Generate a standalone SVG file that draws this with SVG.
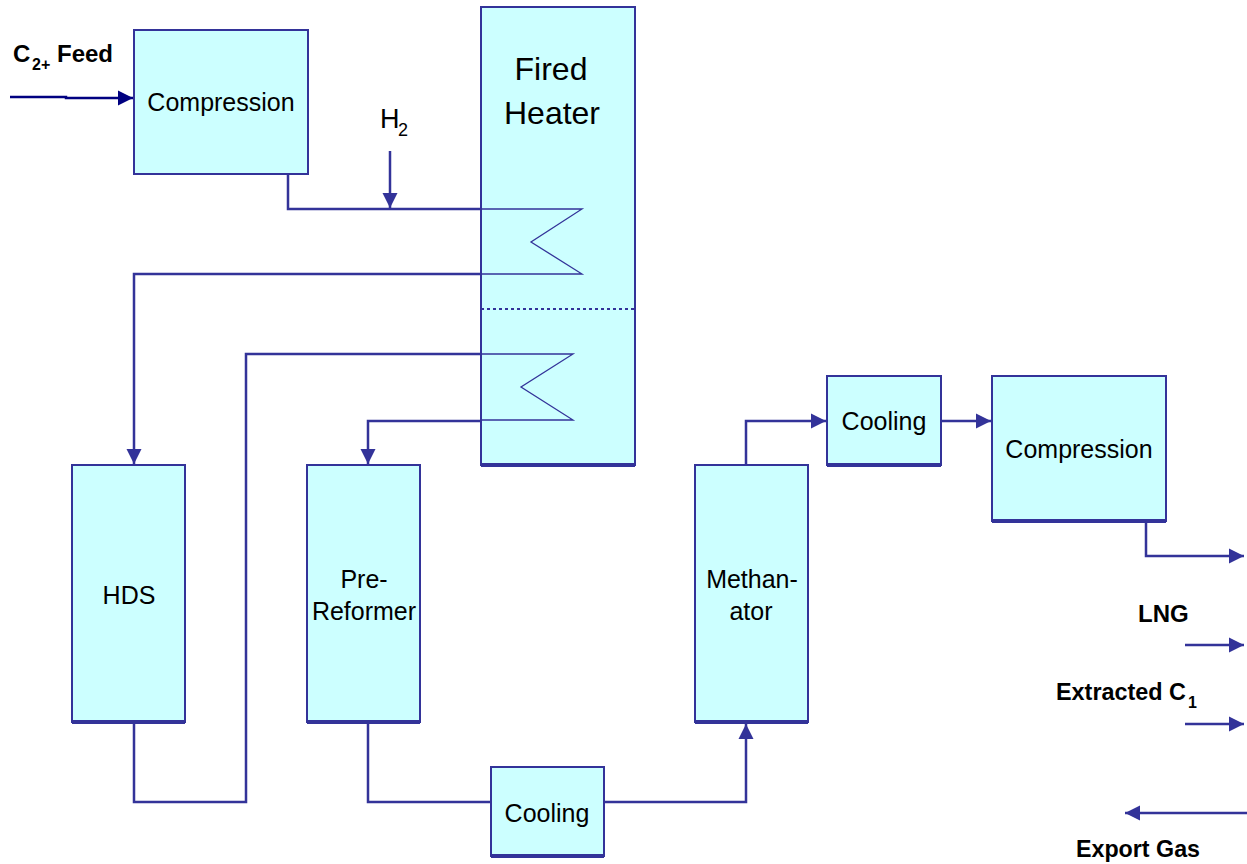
<svg xmlns="http://www.w3.org/2000/svg" width="1247" height="864" viewBox="0 0 1247 864">
<style>
.box{fill:#CCFFFF;stroke:#333399;stroke-width:2}
.base{stroke:#333399;stroke-width:4}
.lbl{font-family:"Liberation Sans",Arial,sans-serif;font-size:25px;fill:#000;text-anchor:middle}
.big{font-size:32px}
.bold{font-family:"Liberation Sans",Arial,sans-serif;font-size:24px;font-weight:bold;fill:#000}
.sub{font-size:16px}
.conn{fill:none;stroke:#333399;stroke-width:2.5}
.coil{fill:none;stroke:#333399;stroke-width:1.3}
</style>
<defs>
<marker id="arr" markerUnits="userSpaceOnUse" markerWidth="16" markerHeight="16" refX="15" refY="8" orient="auto" viewBox="0 0 16 16">
<path d="M0,0.5 L15,8 L0,15.5 z" fill="#333399"/>
</marker>
<marker id="arrN" markerUnits="userSpaceOnUse" markerWidth="16" markerHeight="16" refX="15" refY="8" orient="auto" viewBox="0 0 16 16">
<path d="M0,0.5 L15,8 L0,15.5 z" fill="#000080"/>
</marker>
</defs>
<rect width="1247" height="864" fill="#fff"/>

<g id="connectors">
<polyline class="conn" points="10,97 66,97 66,98 133,98" style="stroke:#000080" marker-end="url(#arrN)"/>
<polyline class="conn" points="288,174 288,209 481,209"/>
<line class="conn" x1="390" y1="151" x2="390" y2="208" marker-end="url(#arr)"/>
<polyline class="conn" points="481,274 134,274 134,464" marker-end="url(#arr)"/>
<polyline class="conn" points="481,354 246,354 246,802 134,802 134,723"/>
<polyline class="conn" points="481,421 368,421 368,464" marker-end="url(#arr)"/>
<polyline class="conn" points="368,723 368,802 491,802"/>
<polyline class="conn" points="604,802 746,802 746,724" marker-end="url(#arr)"/>
<polyline class="conn" points="746,464 746,421 826,421" marker-end="url(#arr)"/>
<line class="conn" x1="942" y1="421" x2="991" y2="421" marker-end="url(#arr)"/>
<polyline class="conn" points="1146,522 1146,556 1244,556" marker-end="url(#arr)"/>
<line class="conn" x1="1185" y1="645" x2="1244" y2="645" marker-end="url(#arr)"/>
<line class="conn" x1="1185" y1="724" x2="1244" y2="724" marker-end="url(#arr)"/>
<line class="conn" x1="1247" y1="813" x2="1125" y2="813" marker-end="url(#arr)"/>
</g>

<g id="compression1">
<rect class="box" x="134" y="30" width="174" height="144"/>
<text class="lbl" x="221" y="111">Compression</text>
</g>

<g id="fired-heater">
<rect class="box" x="481" y="7" width="154" height="458"/>
<line class="base" x1="481" y1="465" x2="635" y2="465"/>
<text class="lbl big" x="551" y="80">Fired</text>
<text class="lbl big" x="552" y="124">Heater</text>
<polyline class="coil" points="481,209 582,209 531,242 582,274 481,274"/>
<line x1="481" y1="309" x2="635" y2="309" stroke="#333399" stroke-width="2" stroke-dasharray="3 3"/>
<polyline class="coil" points="481,354 573,354 521,387 573,420 481,420"/>
</g>

<g id="hds">
<rect class="box" x="72" y="465" width="113" height="257"/>
<line class="base" x1="72" y1="722" x2="185" y2="722"/>
<text class="lbl" x="129" y="604">HDS</text>
</g>

<g id="pre-reformer">
<rect class="box" x="307" y="465" width="113" height="257"/>
<line class="base" x1="307" y1="722" x2="420" y2="722"/>
<text class="lbl" x="364" y="588">Pre-</text>
<text class="lbl" x="364" y="620">Reformer</text>
</g>

<g id="cooling-bottom">
<rect class="box" x="491" y="767" width="113" height="89"/>
<line class="base" x1="491" y1="856" x2="604" y2="856"/>
<text class="lbl" x="547" y="822">Cooling</text>
</g>

<g id="methanator">
<rect class="box" x="695" y="465" width="113" height="257"/>
<line class="base" x1="695" y1="722" x2="808" y2="722"/>
<text class="lbl" x="752" y="588">Methan-</text>
<text class="lbl" x="751" y="620">ator</text>
</g>

<g id="cooling-top">
<rect class="box" x="827" y="376" width="114" height="89"/>
<line class="base" x1="827" y1="465" x2="941" y2="465"/>
<text class="lbl" x="884" y="430">Cooling</text>
</g>

<g id="compression2">
<rect class="box" x="992" y="376" width="174" height="145"/>
<line class="base" x1="992" y1="521" x2="1166" y2="521"/>
<text class="lbl" x="1079" y="458">Compression</text>
</g>

<g id="labels">
<text class="bold" x="13" y="62">C<tspan class="sub" x="32" y="70">2+</tspan><tspan x="57" y="62">Feed</tspan></text>
<text class="lbl" x="380" y="128" style="text-anchor:start;font-size:27px">H<tspan x="398" y="136" style="font-size:18px">2</tspan></text>
<text class="bold" x="1138" y="622">LNG</text>
<text class="bold" x="1056" y="700" textLength="130" lengthAdjust="spacingAndGlyphs">Extracted C</text>
<text class="bold sub" x="1188" y="708">1</text>
<text class="bold" x="1076" y="857" textLength="124" lengthAdjust="spacingAndGlyphs">Export Gas</text>
</g>
</svg>
